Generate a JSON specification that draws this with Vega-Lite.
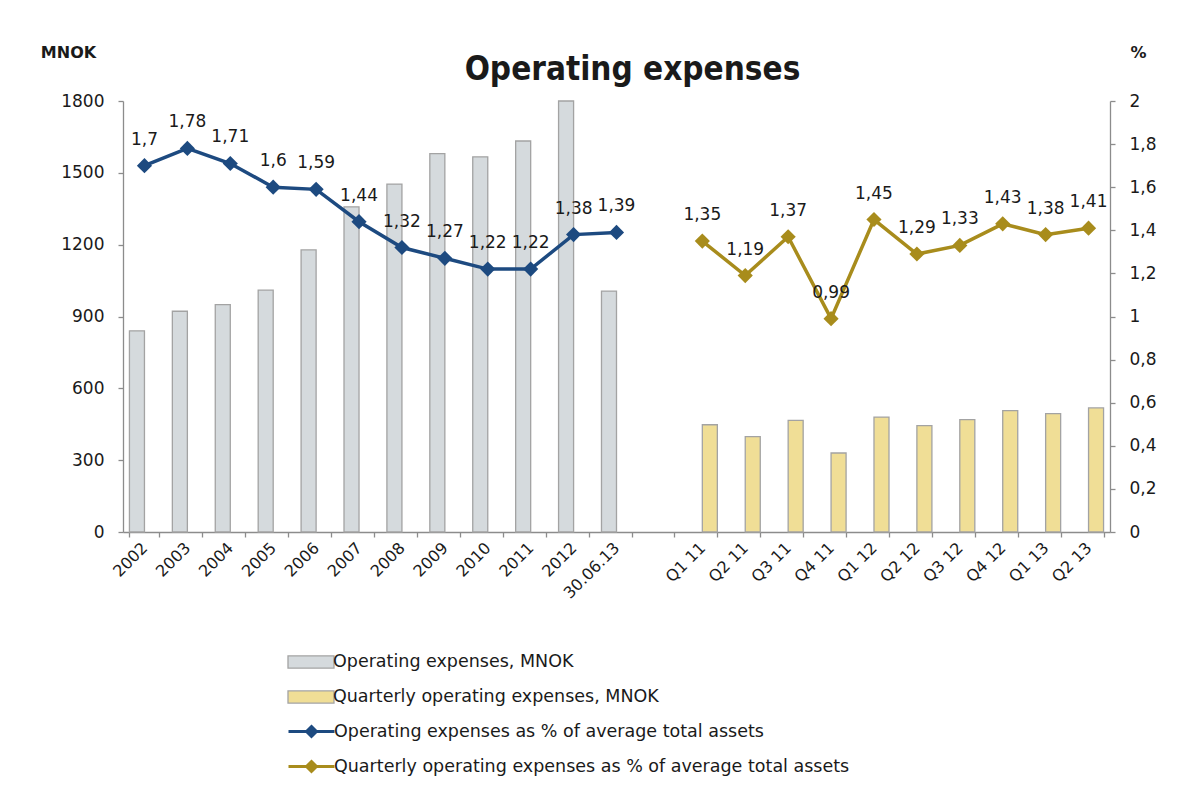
{
  "$schema": "https://vega.github.io/schema/vega-lite/v6.json",
  "width": 987,
  "height": 431,
  "autosize": {"type": "none"},
  "padding": {"left": 123, "top": 101, "right": 83, "bottom": 264},
  "background": "white",
  "title": {
    "text": "Operating expenses",
    "font": "DejaVu Sans Condensed, DejaVu Sans",
    "fontSize": 33,
    "fontWeight": "bold",
    "color": "#1a1a1a",
    "anchor": "middle",
    "frame": "group",
    "offset": 0,
    "dx": 16,
    "dy": 43
  },
  "datasets": {
    "bars": [
      {"cat": "2002", "series": "Operating expenses, MNOK", "mnok": 840},
      {"cat": "2003", "series": "Operating expenses, MNOK", "mnok": 922},
      {"cat": "2004", "series": "Operating expenses, MNOK", "mnok": 950},
      {"cat": "2005", "series": "Operating expenses, MNOK", "mnok": 1010},
      {"cat": "2006", "series": "Operating expenses, MNOK", "mnok": 1178},
      {"cat": "2007", "series": "Operating expenses, MNOK", "mnok": 1358},
      {"cat": "2008", "series": "Operating expenses, MNOK", "mnok": 1453},
      {"cat": "2009", "series": "Operating expenses, MNOK", "mnok": 1580},
      {"cat": "2010", "series": "Operating expenses, MNOK", "mnok": 1567},
      {"cat": "2011", "series": "Operating expenses, MNOK", "mnok": 1633},
      {"cat": "2012", "series": "Operating expenses, MNOK", "mnok": 1800},
      {"cat": "30.06.13", "series": "Operating expenses, MNOK", "mnok": 1006},
      {"cat": "Q1 11", "series": "Quarterly operating expenses, MNOK", "mnok": 448},
      {"cat": "Q2 11", "series": "Quarterly operating expenses, MNOK", "mnok": 398},
      {"cat": "Q3 11", "series": "Quarterly operating expenses, MNOK", "mnok": 466},
      {"cat": "Q4 11", "series": "Quarterly operating expenses, MNOK", "mnok": 330},
      {"cat": "Q1 12", "series": "Quarterly operating expenses, MNOK", "mnok": 480},
      {"cat": "Q2 12", "series": "Quarterly operating expenses, MNOK", "mnok": 444},
      {"cat": "Q3 12", "series": "Quarterly operating expenses, MNOK", "mnok": 469},
      {"cat": "Q4 12", "series": "Quarterly operating expenses, MNOK", "mnok": 507},
      {"cat": "Q1 13", "series": "Quarterly operating expenses, MNOK", "mnok": 494},
      {"cat": "Q2 13", "series": "Quarterly operating expenses, MNOK", "mnok": 518}
    ],
    "lines": [
      {"cat": "2002", "series": "Operating expenses as % of average total assets", "pct": 1.7},
      {"cat": "2003", "series": "Operating expenses as % of average total assets", "pct": 1.78},
      {"cat": "2004", "series": "Operating expenses as % of average total assets", "pct": 1.71},
      {"cat": "2005", "series": "Operating expenses as % of average total assets", "pct": 1.6},
      {"cat": "2006", "series": "Operating expenses as % of average total assets", "pct": 1.59},
      {"cat": "2007", "series": "Operating expenses as % of average total assets", "pct": 1.44},
      {"cat": "2008", "series": "Operating expenses as % of average total assets", "pct": 1.32},
      {"cat": "2009", "series": "Operating expenses as % of average total assets", "pct": 1.27},
      {"cat": "2010", "series": "Operating expenses as % of average total assets", "pct": 1.22},
      {"cat": "2011", "series": "Operating expenses as % of average total assets", "pct": 1.22},
      {"cat": "2012", "series": "Operating expenses as % of average total assets", "pct": 1.38},
      {"cat": "30.06.13", "series": "Operating expenses as % of average total assets", "pct": 1.39},
      {"cat": "Q1 11", "series": "Quarterly operating expenses as % of average total assets", "pct": 1.35},
      {"cat": "Q2 11", "series": "Quarterly operating expenses as % of average total assets", "pct": 1.19},
      {"cat": "Q3 11", "series": "Quarterly operating expenses as % of average total assets", "pct": 1.37},
      {"cat": "Q4 11", "series": "Quarterly operating expenses as % of average total assets", "pct": 0.99},
      {"cat": "Q1 12", "series": "Quarterly operating expenses as % of average total assets", "pct": 1.45},
      {"cat": "Q2 12", "series": "Quarterly operating expenses as % of average total assets", "pct": 1.29},
      {"cat": "Q3 12", "series": "Quarterly operating expenses as % of average total assets", "pct": 1.33},
      {"cat": "Q4 12", "series": "Quarterly operating expenses as % of average total assets", "pct": 1.43},
      {"cat": "Q1 13", "series": "Quarterly operating expenses as % of average total assets", "pct": 1.38},
      {"cat": "Q2 13", "series": "Quarterly operating expenses as % of average total assets", "pct": 1.41}
    ]
  },
  "encoding": {
    "x": {
      "field": "cat",
      "type": "nominal",
      "scale": {
        "domain": ["2002", "2003", "2004", "2005", "2006", "2007", "2008", "2009", "2010", "2011", "2012", "30.06.13", " ", "Q1 11", "Q2 11", "Q3 11", "Q4 11", "Q1 12", "Q2 12", "Q3 12", "Q4 12", "Q1 13", "Q2 13"],
        "paddingInner": 0.3,
        "paddingOuter": 0.15
      },
      "axis": {
        "title": null,
        "labelAngle": -45,
        "labelAlign": "right",
        "labelBaseline": "middle",
        "labelPadding": 8,
        "labelFontSize": 16,
        "tickBand": "extent"
      }
    }
  },
  "layer": [
    {
      "data": {"name": "bars"},
      "mark": {"type": "bar", "stroke": "#a3a3a3", "strokeWidth": 1.3},
      "encoding": {
        "xOffset": {
          "field": "series",
          "type": "nominal",
          "scale": {"domain": ["Operating expenses, MNOK", "Quarterly operating expenses, MNOK"], "paddingInner": 0, "paddingOuter": 0}
        },
        "y": {
          "field": "mnok",
          "type": "quantitative",
          "scale": {"domain": [0, 1800], "nice": false},
          "axis": {
            "title": "MNOK",
            "titleAngle": 0,
            "titleX": -55,
            "titleY": -49,
            "titleAlign": "center",
            "titleBaseline": "middle",
            "titleFontSize": 16,
            "titleFontWeight": "bold",
            "titleColor": "#1a1a1a",
            "values": [0, 300, 600, 900, 1200, 1500, 1800],
            "format": "d",
            "labelPadding": 14
          }
        },
        "fill": {
          "field": "series",
          "type": "nominal",
          "scale": {
            "domain": ["Operating expenses, MNOK", "Quarterly operating expenses, MNOK"],
            "range": ["#d5dadd", "#f0de96"]
          },
          "legend": {
            "title": null,
            "orient": "none",
            "legendX": 164,
            "legendY": 549,
            "direction": "vertical",
            "padding": 0,
            "symbolType": "M-1,-0.55H3.18V0.55H-1Z",
            "symbolSize": 484,
            "symbolStrokeColor": "#a3a3a3",
            "symbolStrokeWidth": 1.3,
            "symbolOpacity": 1,
            "labelOffset": 22,
            "rowPadding": 14,
            "labelFontSize": 17.5,
            "labelColor": "#1a1a1a",
            "labelLimit": 0
          }
        }
      }
    },
    {
      "data": {"name": "lines"},
      "encoding": {
        "y": {
          "field": "pct",
          "type": "quantitative",
          "scale": {"domain": [0, 2], "nice": false},
          "axis": {
            "orient": "right",
            "title": "%",
            "titleAngle": 0,
            "titleX": 28,
            "titleY": -49,
            "titleAlign": "center",
            "titleBaseline": "middle",
            "titleFontSize": 16,
            "titleFontWeight": "bold",
            "titleColor": "#1a1a1a",
            "values": [0, 0.2, 0.4, 0.6, 0.8, 1, 1.2, 1.4, 1.6, 1.8, 2],
            "format": "~g",
            "labelPadding": 14
          }
        }
      },
      "layer": [
        {
          "mark": {"type": "line", "strokeWidth": 3.5},
          "encoding": {
            "stroke": {
              "field": "series",
              "type": "nominal",
              "scale": {
                "domain": ["Operating expenses as % of average total assets", "Quarterly operating expenses as % of average total assets"],
                "range": ["#1d4a80", "#a88c1c"]
              },
              "legend": {
                "title": null,
                "orient": "none",
                "legendX": 164,
                "legendY": 618,
                "direction": "vertical",
                "padding": 0,
                "symbolType": "M-1,0H3.18 M1.09,-0.45L1.54,0L1.09,0.45L0.64,0Z M1.09,-0.26L1.35,0L1.09,0.26L0.83,0Z M1.09,-0.08L1.17,0L1.09,0.08L1.01,0Z",
                "symbolSize": 484,
                "symbolStrokeWidth": 3,
                "symbolOpacity": 1,
                "labelOffset": 22,
                "rowPadding": 11,
                "labelFontSize": 17.5,
                "labelColor": "#1a1a1a",
                "labelLimit": 0
              }
            }
          }
        },
        {
          "mark": {"type": "point", "shape": "diamond", "filled": true, "size": 230, "opacity": 1},
          "encoding": {
            "color": {
              "field": "series",
              "type": "nominal",
              "scale": {
                "domain": ["Operating expenses as % of average total assets", "Quarterly operating expenses as % of average total assets"],
                "range": ["#1d4a80", "#a88c1c"]
              },
              "legend": null
            }
          }
        },
        {
          "mark": {"type": "text", "dy": -21, "baseline": "alphabetic", "fontSize": 17, "fill": "#1a1a1a", "font": "DejaVu Sans"},
          "encoding": {"text": {"field": "pct", "type": "quantitative", "format": "~g"}}
        }
      ]
    }
  ],
  "resolve": {"scale": {"y": "independent"}},
  "config": {
    "locale": {"number": {"decimal": ",", "thousands": " ", "grouping": [3], "currency": ["", ""]}},
    "font": "DejaVu Sans",
    "view": {"stroke": null},
    "axis": {
      "grid": false,
      "domainColor": "#8c8c8c",
      "tickColor": "#8c8c8c",
      "domainWidth": 1.3,
      "tickWidth": 1.3,
      "tickSize": 5,
      "labelColor": "#1a1a1a",
      "labelFont": "DejaVu Sans",
      "labelFontSize": 17
    },
    "legend": {"labelFont": "DejaVu Sans"}
  }
}
